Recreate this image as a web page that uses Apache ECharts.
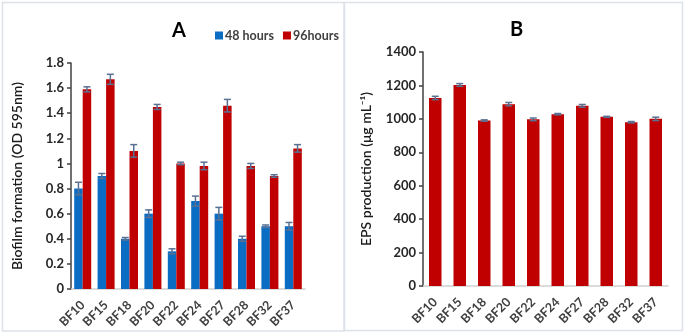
<!DOCTYPE html>
<html>
<head>
<meta charset="utf-8">
<script src="https://cdn.jsdelivr.net/npm/echarts@6/dist/echarts.min.js"></script>
<style>
  html, body { margin: 0; padding: 0; background: #fff; }
  #chart { width: 685px; height: 334px; }
</style>
</head>
<body>
<div id="chart"></div>
<script>
const strains = ['BF10', 'BF15', 'BF18', 'BF20', 'BF22', 'BF24', 'BF27', 'BF28', 'BF32', 'BF37'];

// panel A: biofilm formation (OD 595nm)
const od48 = [0.80, 0.90, 0.40, 0.60, 0.30, 0.70, 0.60, 0.40, 0.50, 0.50];
const od48Err = [0.05, 0.02, 0.01, 0.03, 0.02, 0.04, 0.05, 0.02, 0.01, 0.03];
const od96 = [1.59, 1.67, 1.10, 1.45, 1.00, 0.98, 1.46, 0.98, 0.90, 1.12];
const od96Err = [0.02, 0.04, 0.05, 0.02, 0.01, 0.03, 0.05, 0.02, 0.01, 0.03];

// panel B: EPS production
const eps = [1125, 1203, 990, 1088, 997, 1028, 1078, 1012, 980, 1000];
const epsErr = [10, 8, 4, 10, 8, 4, 8, 3, 4, 10];

const BLUE = '#0b6cc4';
const RED = '#c00000';
const ERR = '#5a7092';
const FONT = 'Lato, "Open Sans", sans-serif';

function errSeries(xi, yi, vals, errs, offset) {
  return {
    type: 'custom',
    xAxisIndex: xi,
    yAxisIndex: yi,
    z: 10,
    data: vals.map((v, i) => [i, v, errs[i]]),
    renderItem(params, api) {
      const i = api.value(0), v = api.value(1), e = api.value(2);
      const hi = api.coord([i, v + e]);
      const lo = api.coord([i, v - e]);
      const x = hi[0] + offset;
      const w = 3.5;
      const st = { stroke: ERR, lineWidth: 1.5 };
      return {
        type: 'group',
        children: [
          { type: 'line', shape: { x1: x, y1: hi[1], x2: x, y2: lo[1] }, style: st },
          { type: 'line', shape: { x1: x - w, y1: hi[1], x2: x + w, y2: hi[1] }, style: st },
          { type: 'line', shape: { x1: x - w, y1: lo[1], x2: x + w, y2: lo[1] }, style: st }
        ]
      };
    }
  };
}

const axisLabelY = { color: '#262626', fontWeight: 'bold', fontSize: 13, fontFamily: FONT, margin: 7 };
const axisLabelX = { color: '#404040', fontWeight: 'bold', fontSize: 12.5, fontFamily: FONT, rotate: 45, margin: 14, interval: 0 };

const chart = echarts.init(document.getElementById('chart'), null, { renderer: 'canvas' });
chart.setOption({
  animation: false,
  graphic: [
    { type: 'rect', shape: { x: 2.5, y: 2.5, width: 341.5, height: 328.5 }, style: { fill: 'none', stroke: '#dde2ea', lineWidth: 1.5 } },
    { type: 'rect', shape: { x: 344.5, y: 2.5, width: 338, height: 328 }, style: { fill: 'none', stroke: '#dde2ea', lineWidth: 1.5 } }
  ],
  title: [
    { text: 'A', left: 167, top: 16, textStyle: { fontSize: 20, fontWeight: 'bold', color: '#000', fontFamily: FONT } },
    { text: 'B', left: 505, top: 15, textStyle: { fontSize: 20, fontWeight: 'bold', color: '#000', fontFamily: FONT } }
  ],
  legend: {
    left: 210, top: 24,
    itemWidth: 8, itemHeight: 8, itemGap: 9,
    icon: 'rect',
    textStyle: { fontSize: 12.5, fontWeight: 'bold', color: '#404040', fontFamily: FONT, padding: [0, 0, 0, -3] },
    data: ['48 hours', '96hours']
  },
  grid: [
    { left: 71, top: 63, width: 234, height: 226 },
    { left: 423, top: 52, width: 245, height: 234 }
  ],
  xAxis: [
    {
      gridIndex: 0, type: 'category', data: strains,
      axisLine: { lineStyle: { color: '#d0d0d0', width: 1.5 } },
      axisTick: { show: false },
      axisLabel: axisLabelX
    },
    {
      gridIndex: 1, type: 'category', data: strains,
      axisLine: { lineStyle: { color: '#d0d0d0', width: 1.5 } },
      axisTick: { show: false },
      axisLabel: axisLabelX
    }
  ],
  yAxis: [
    {
      gridIndex: 0, type: 'value', min: 0, max: 1.8, interval: 0.2,
      name: 'Biofilm formation (OD 595nm)', nameLocation: 'middle', nameGap: 47,
      nameTextStyle: { fontSize: 14, fontWeight: 600, color: '#1a1a1a', fontFamily: FONT },
      axisLine: { show: true, lineStyle: { color: '#404040', width: 1.5 } },
      axisTick: { show: true, inside: false, length: 4, lineStyle: { color: '#404040', width: 1.5 } },
      splitLine: { show: false },
      axisLabel: Object.assign({}, axisLabelY, { formatter: v => String(+v.toFixed(1)) })
    },
    {
      gridIndex: 1, type: 'value', min: 0, max: 1400, interval: 200,
      name: 'EPS production (μg mL⁻¹)', nameLocation: 'middle', nameGap: 50,
      nameTextStyle: { fontSize: 14, fontWeight: 600, color: '#1a1a1a', fontFamily: FONT },
      axisLine: { show: true, lineStyle: { color: '#404040', width: 1.5 } },
      axisTick: { show: true, inside: false, length: 4, lineStyle: { color: '#404040', width: 1.5 } },
      splitLine: { show: false },
      axisLabel: Object.assign({}, axisLabelY, { formatter: v => String(v) })
    }
  ],
  series: [
    { name: '48 hours', type: 'bar', xAxisIndex: 0, yAxisIndex: 0, data: od48, barWidth: 8.5, barGap: '0%', itemStyle: { color: BLUE } },
    { name: '96hours', type: 'bar', xAxisIndex: 0, yAxisIndex: 0, data: od96, barWidth: 8.5, barGap: '0%', itemStyle: { color: RED } },
    { name: 'EPS', type: 'bar', xAxisIndex: 1, yAxisIndex: 1, data: eps, barWidth: 12.5, itemStyle: { color: RED } },
    errSeries(0, 0, od48, od48Err, -4.25),
    errSeries(0, 0, od96, od96Err, 4.25),
    errSeries(1, 1, eps, epsErr, 0)
  ]
});
</script>
</body>
</html>
